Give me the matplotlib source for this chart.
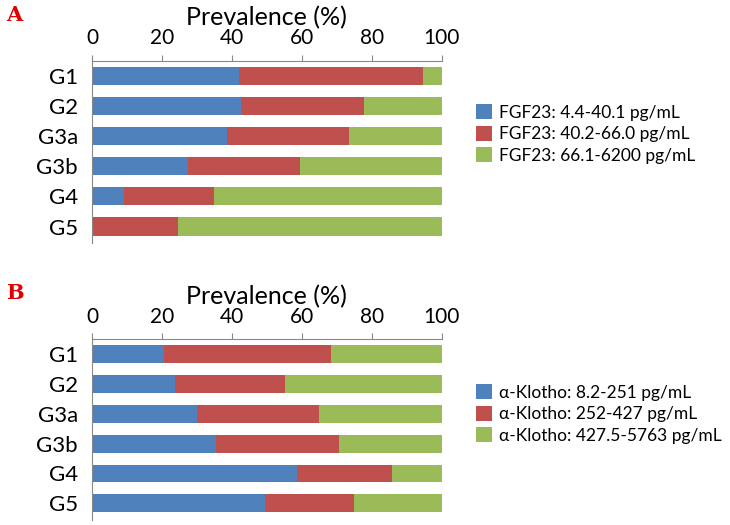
import matplotlib
matplotlib.use("Agg")
import matplotlib.pyplot as plt
import numpy as np

plt.rcParams['font.family'] = ['Lato', 'DejaVu Sans']

groups = ['G1', 'G2', 'G3a', 'G3b', 'G4', 'G5']

# panel A - FGF23 tertiles (%)
fgf_low = [42.1, 42.6, 38.7, 27.4, 9.3, 0.0]
fgf_mid = [52.5, 35.2, 34.9, 32.0, 25.6, 24.5]
fgf_high = [5.4, 22.2, 26.4, 40.6, 65.1, 75.5]
fgf_labels = ['FGF23: 4.4-40.1 pg/mL', 'FGF23: 40.2-66.0 pg/mL',
              'FGF23: 66.1-6200 pg/mL']

# panel B - alpha-Klotho tertiles (%)
klo_low = [20.5, 23.6, 30.0, 35.4, 58.7, 49.5]
klo_mid = [47.9, 31.5, 35.0, 35.3, 27.2, 25.4]
klo_high = [31.6, 44.9, 35.0, 29.3, 14.1, 25.1]
klo_labels = ['\u03b1-Klotho: 8.2-251 pg/mL', '\u03b1-Klotho: 252-427 pg/mL',
              '\u03b1-Klotho: 427.5-5763 pg/mL']

colors = ['#4F81BD', '#C0504D', '#9BBB59']
ticks = [0, 20, 40, 60, 80, 100]

fig = plt.figure(figsize=(7.3, 5.25), dpi=100)


def panel(rect, series, labels, letter, leg_y):
    ax = fig.add_axes(rect)
    y = np.arange(len(groups))
    left = np.zeros(len(groups))
    handles = []
    for vals, c, lab in zip(series, colors, labels):
        h = ax.barh(y, vals, left=left, height=0.6, color=c, label=lab)
        handles.append(h)
        left = left + np.array(vals)
    ax.set_xlim(0, 100)
    ax.set_ylim(len(groups) - 0.5 + 0.05, -0.5)
    ax.set_yticks(y)
    ax.set_yticklabels(groups, fontsize=16)
    ax.set_xticks(ticks)
    ax.set_xticklabels([str(t) for t in ticks], fontsize=15)
    ax.xaxis.tick_top()
    ax.xaxis.set_label_position('top')
    ax.set_xlabel('Prevalence (%)', fontsize=18, labelpad=2)
    ax.tick_params(axis='y', length=0, pad=10)
    ax.tick_params(axis='x', length=4, color='#888888', pad=5)
    for s in ['right', 'bottom']:
        ax.spines[s].set_visible(False)
    for s in ['left', 'top']:
        ax.spines[s].set_color('#888888')
    fig.text(0.008, rect[1] + rect[3] + 0.088, letter, color='#E00000',
             fontsize=15, fontweight='bold', family='DejaVu Serif',
             va='center')
    fig.legend(handles=handles, loc='center left',
               bbox_to_anchor=(476 / 730, leg_y), frameon=False, fontsize=12.5,
               handlelength=0.95, handleheight=0.95, handletextpad=0.4,
               labelspacing=0.3, borderaxespad=0, borderpad=0)
    return ax


panel([0.126, 0.537, 0.479, 0.347], [fgf_low, fgf_mid, fgf_high],
      fgf_labels, 'A', 1 - 134 / 525)
panel([0.126, 0.010, 0.479, 0.344], [klo_low, klo_mid, klo_high],
      klo_labels, 'B', 1 - 414 / 525)

fig.savefig('out.png', dpi=100)
